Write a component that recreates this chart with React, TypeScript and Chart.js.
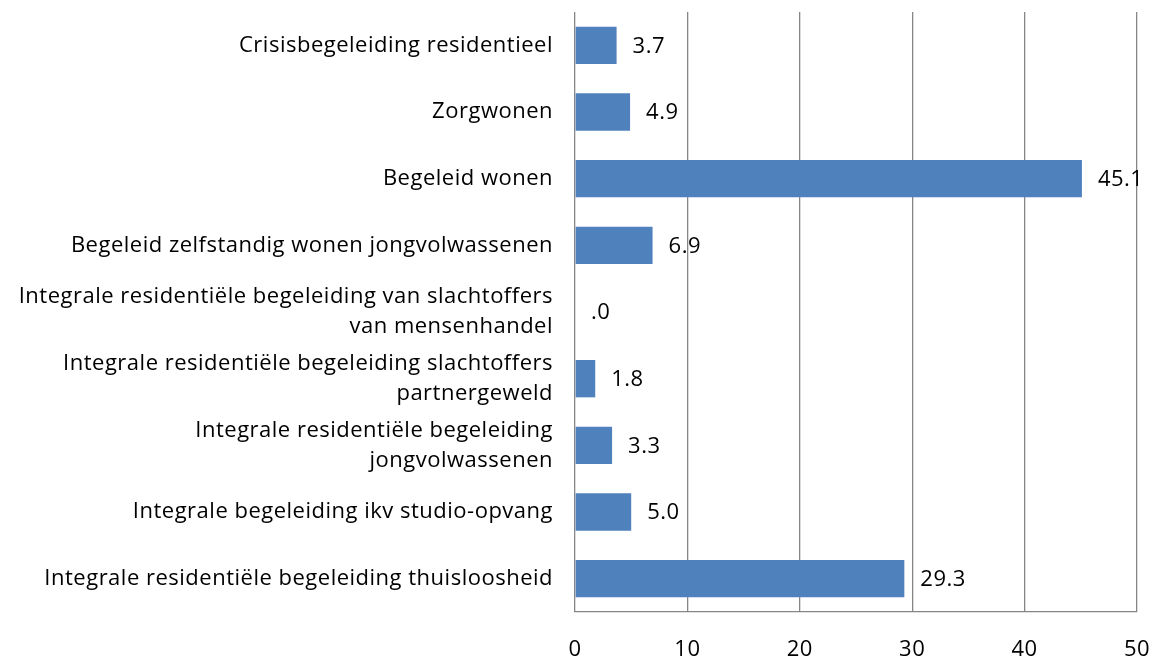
import React, { useEffect, useRef } from "react";
import { Chart, registerables } from "chart.js";

Chart.register(...registerables);

const categories: (string | string[])[] = [
  "Crisisbegeleiding residentieel",
  "Zorgwonen",
  "Begeleid wonen",
  "Begeleid zelfstandig wonen jongvolwassenen",
  ["Integrale residentiële begeleiding van slachtoffers", "van mensenhandel"],
  ["Integrale residentiële begeleiding slachtoffers", "partnergeweld"],
  ["Integrale residentiële begeleiding", "jongvolwassenen"],
  "Integrale begeleiding ikv studio-opvang",
  "Integrale residentiële begeleiding thuisloosheid",
];

const values: number[] = [3.7, 4.9, 45.1, 6.9, 0.0, 1.8, 3.3, 5.0, 29.3];

const xMin = 0;
const xMax = 50;
const xStep = 10;

const FONT = "'Open Sans', sans-serif";
const SIZE = 22;
const SPACING = "0.5px";

const fmt = (v: number) => v.toFixed(1).replace(/^0\./, ".");

const spacingPlugin = {
  id: "letterSpacing",
  beforeLayout(chart: any) {
    chart.ctx.letterSpacing = SPACING;
  },
  beforeDraw(chart: any) {
    chart.ctx.letterSpacing = SPACING;
  },
};

const labelPlugin = {
  id: "barLabels",
  afterDatasetsDraw(chart: any) {
    const ctx = chart.ctx;
    const meta = chart.getDatasetMeta(0);
    ctx.save();
    ctx.font = `${SIZE}px ${FONT}`;
    ctx.fillStyle = "#000";
    ctx.textAlign = "left";
    ctx.textBaseline = "middle";
    meta.data.forEach((el: any, i: number) => {
      ctx.fillText(fmt(values[i]), el.x + 16, el.y + 1);
    });
    ctx.restore();
  },
};

export default function App() {
  const ref = useRef<HTMLCanvasElement>(null);
  useEffect(() => {
    if (!ref.current) return;
    const chart = new Chart(ref.current, {
      type: "bar",
      data: {
        labels: categories,
        datasets: [
          {
            data: values,
            backgroundColor: "#4F81BD",
            borderWidth: 0,
            barPercentage: 0.56,
            categoryPercentage: 1,
          },
        ],
      },
      options: {
        indexAxis: "y",
        animation: false,
        responsive: false,
        layout: { padding: { top: 12, right: 24, bottom: 0, left: 0 } },
        plugins: {
          legend: { display: false },
          tooltip: { enabled: false },
        },
        scales: {
          x: {
            min: xMin,
            max: xMax,
            afterFit: (scale: any) => {
              scale.height = 48;
              scale.paddingLeft = 0;
              scale.paddingRight = 0;
            },
            ticks: {
              stepSize: xStep,
              color: "#000",
              font: { family: FONT, size: SIZE },
              padding: 25,
            },
            grid: {
              color: "#868686",
              lineWidth: 1.3,
              drawTicks: false,
            },
            border: { color: "#868686", width: 1.3 },
          },
          y: {
            afterFit: (scale: any) => {
              scale.width = 575;
              scale.paddingTop = 0;
              scale.paddingBottom = 0;
            },
            ticks: {
              color: "#000",
              font: { family: FONT, size: SIZE, lineHeight: 1.36 },
              padding: 22,
              autoSkip: false,
            },
            grid: { display: false, drawTicks: false },
            border: { display: false },
          },
        },
      },
      plugins: [spacingPlugin, labelPlugin],
    });
    return () => chart.destroy();
  }, []);
  return (
    <div style={{ position: "absolute", left: 0, top: 0 }}>
      <canvas ref={ref} width={1161} height={660} />
    </div>
  );
}
